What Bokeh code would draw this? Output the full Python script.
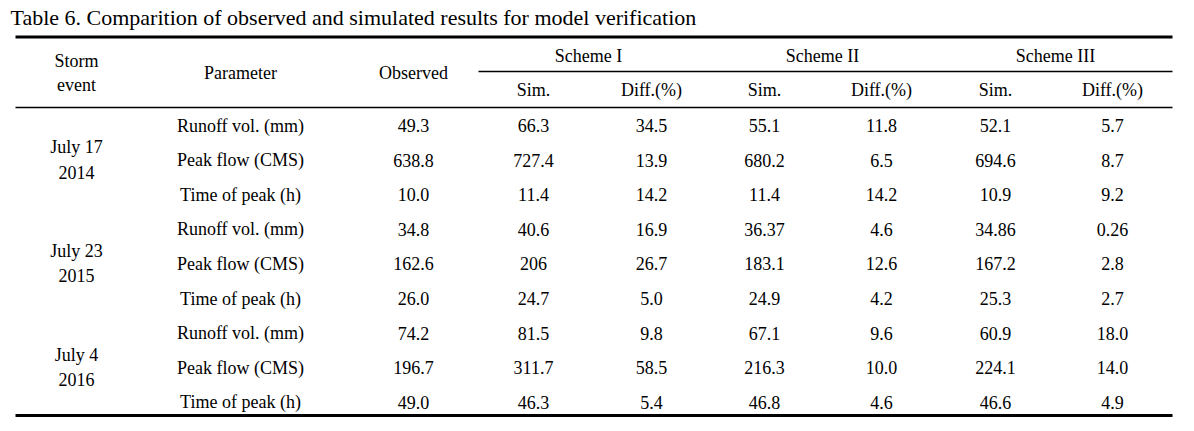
from bokeh.plotting import figure
from bokeh.models import ColumnDataSource, Range1d
from bokeh.core.properties import value
from bokeh.embed import file_html
from bokeh.resources import INLINE

# ---- data ----
title = "Table 6. Comparition of observed and simulated results for model verification"
events = [("July 17", "2014"), ("July 23", "2015"), ("July 4", "2016")]
params = ["Runoff vol. (mm)", "Peak flow (CMS)", "Time of peak (h)"]
observed = ["49.3", "638.8", "10.0", "34.8", "162.6", "26.0", "74.2", "196.7", "49.0"]
s1_sim = ["66.3", "727.4", "11.4", "40.6", "206", "24.7", "81.5", "311.7", "46.3"]
s1_diff = ["34.5", "13.9", "14.2", "16.9", "26.7", "5.0", "9.8", "58.5", "5.4"]
s2_sim = ["55.1", "680.2", "11.4", "36.37", "183.1", "24.9", "67.1", "216.3", "46.8"]
s2_diff = ["11.8", "6.5", "14.2", "4.6", "12.6", "4.2", "9.6", "10.0", "4.6"]
s3_sim = ["52.1", "694.6", "10.9", "34.86", "167.2", "25.3", "60.9", "224.1", "46.6"]
s3_diff = ["5.7", "8.7", "9.2", "0.26", "2.8", "2.7", "18.0", "14.0", "4.9"]
schemes = ["Scheme I", "Scheme II", "Scheme III"]

# ---- layout ----
W, H = 1186, 423
FONT = value("Liberation Serif")
BODY = "18px"
col_x = {"event": 76, "param": 240, "obs": 413,
         "s1s": 533, "s1d": 651, "s2s": 764, "s2d": 881, "s3s": 995, "s3d": 1112}
scheme_x = [588, 822, 1055]
row_y0, row_dy = 125, 34.6
x_left, x_right = 15, 1172

p = figure(width=W, height=H, output_backend="svg", toolbar_location=None,
           x_range=Range1d(0, W), y_range=Range1d(H, 0),
           min_border=0)
p.axis.visible = False
p.grid.visible = False
p.outline_line_color = None
p.background_fill_color = "white"

def txt(xs, ys, texts, size=BODY, align="center"):
    src = ColumnDataSource(dict(x=xs, y=ys, t=texts))
    p.text("x", "y", text="t", source=src, text_font=FONT, text_font_size=size,
           text_align=align, text_baseline="middle", text_color="black")

# title
txt([10], [17], [title], size="22px", align="left")

# rules
p.segment(x0=[x_left, x_left], y0=[36.5, 415], x1=[x_right, x_right], y1=[36.5, 415],
          line_width=3, line_color="black")
p.segment(x0=[478, x_left], y0=[71, 107], x1=[x_right, x_right], y1=[71, 107],
          line_width=1.5, line_color="black")

# header
txt([col_x["event"], col_x["event"]], [60, 84], ["Storm", "event"])
txt([col_x["param"], col_x["obs"]], [72, 72], ["Parameter", "Observed"])
txt(scheme_x, [55] * 3, schemes)
txt([col_x[k] for k in ["s1s", "s1d", "s2s", "s2d", "s3s", "s3d"]], [89] * 6,
    ["Sim.", "Diff.(%)"] * 3)

# body
n = len(observed)
ys = [row_y0 + i * row_dy for i in range(n)]
txt([col_x["param"]] * n, ys, params * len(events))
for key, col in [("obs", observed), ("s1s", s1_sim), ("s1d", s1_diff),
                 ("s2s", s2_sim), ("s2d", s2_diff), ("s3s", s3_sim), ("s3d", s3_diff)]:
    txt([col_x[key]] * n, ys, col)

ev_x, ev_y, ev_t = [], [], []
for j, (a, b) in enumerate(events):
    mid = row_y0 + (3 * j + 1) * row_dy
    ev_x += [col_x["event"], col_x["event"]]
    ev_y += [mid - 13, mid + 12]
    ev_t += [a, b]
txt(ev_x, ev_y, ev_t)

open("out.html", "w").write(file_html(p, INLINE))
